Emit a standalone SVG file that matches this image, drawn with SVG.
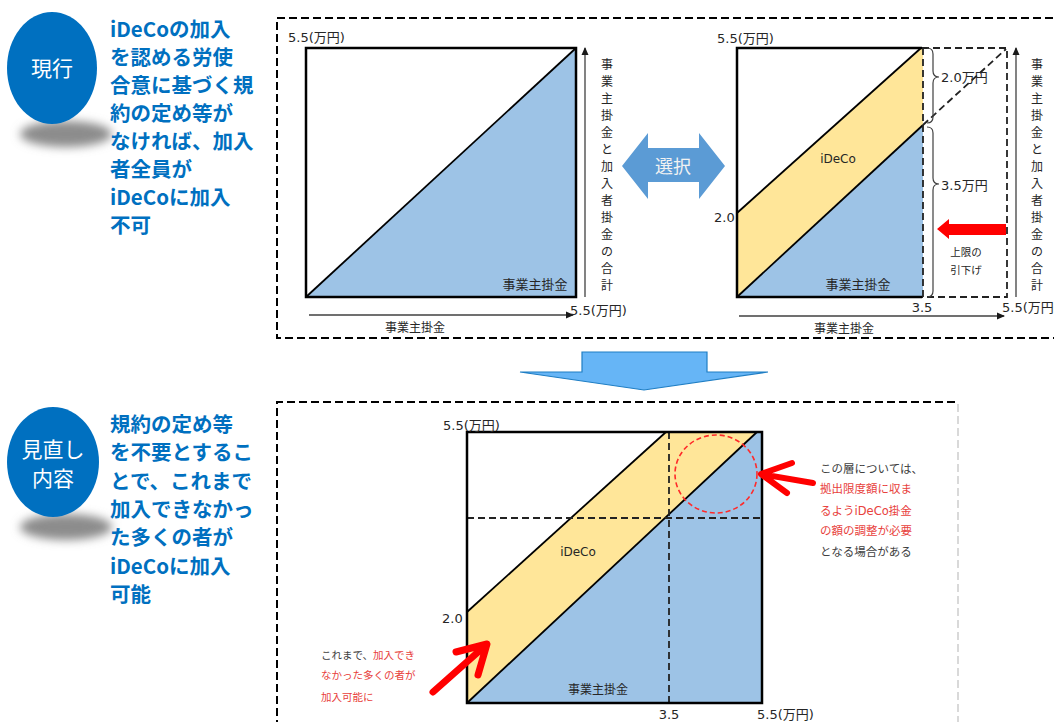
<svg xmlns="http://www.w3.org/2000/svg" width="1054" height="722" viewBox="0 0 1054 722">
<defs>
<style>
.t{font-family:"DejaVu Sans","Noto Sans CJK JP",sans-serif;fill:#262626;}
.lbl{font-size:13px;}
.head{font-family:"Noto Sans CJK JP",sans-serif;font-weight:700;font-size:20.5px;fill:#0070c0;}
.circ{fill:#0070c0;}
.ctext{font-family:"Noto Sans CJK JP",sans-serif;font-size:21px;fill:#ffffff;text-anchor:middle;}
.box{fill:none;stroke:#000;stroke-width:2;stroke-dasharray:8 4;}
.sq{fill:none;stroke:#000;stroke-width:2.5;}
.diag{stroke:#000;stroke-width:1.8;fill:none;}
.dash{stroke:#222;stroke-width:1.8;fill:none;stroke-dasharray:7 4;}
.axis{stroke:#404040;stroke-width:1.3;fill:none;marker-end:url(#ah);}
.blue{fill:#9dc3e6;}
.yel{fill:#ffe699;}
.red{fill:#e8413c;}
.dark{fill:#404040;}
.redarr{stroke:#ff0000;fill:none;stroke-linecap:round;stroke-linejoin:round;}
</style>
<marker id="ah" markerWidth="8" markerHeight="8" refX="7" refY="4" orient="auto" markerUnits="userSpaceOnUse">
<path d="M0,0.5 L8,4 L0,7.5 Z" fill="#1a1a1a"/>
</marker>
<filter id="blur" x="-50%" y="-100%" width="200%" height="300%">
<feGaussianBlur stdDeviation="5"/>
</filter>
</defs>

<!-- left labels -->
<g id="label-current">
<ellipse cx="66" cy="134" rx="46" ry="13" fill="#8c8c8c" filter="url(#blur)"/>
<ellipse class="circ" cx="52" cy="68" rx="45" ry="56"/>
<text class="ctext" x="52" y="76">現行</text>
</g>
<g id="text-current">
<text class="head" x="110" y="37">iDeCoの加入</text>
<text class="head" x="110" y="65">を認める労使</text>
<text class="head" x="110" y="93">合意に基づく規</text>
<text class="head" x="110" y="121">約の定め等が</text>
<text class="head" x="110" y="149">なければ、加入</text>
<text class="head" x="110" y="177">者全員が</text>
<text class="head" x="110" y="205">iDeCoに加入</text>
<text class="head" x="110" y="233">不可</text>
</g>
<g id="label-revised">
<ellipse cx="66" cy="527" rx="46" ry="13" fill="#8c8c8c" filter="url(#blur)"/>
<ellipse class="circ" cx="53" cy="462" rx="46" ry="55"/>
<text class="ctext" x="53" y="457">見直し</text>
<text class="ctext" x="53" y="486">内容</text>
</g>
<g id="text-revised">
<text class="head" x="110" y="432">規約の定め等</text>
<text class="head" x="110" y="460">を不要とするこ</text>
<text class="head" x="110" y="489">とで、これまで</text>
<text class="head" x="110" y="517">加入できなかっ</text>
<text class="head" x="110" y="545">た多くの者が</text>
<text class="head" x="110" y="574">iDeCoに加入</text>
<text class="head" x="110" y="602">可能</text>
</g>

<!-- frames -->
<g id="frame-top">
<rect class="box" x="277" y="18" width="790" height="320"/>
</g>
<g id="frame-bottom">
<path d="M277,740 L277,402 L957,402" class="box"/>
<line x1="958" y1="404" x2="958" y2="722" stroke="#d9d9d9" stroke-width="2" stroke-dasharray="8 4"/>
</g>

<!-- current chart -->
<g id="chart-current">
<polygon class="blue" points="306,297 576,48 576,297"/>
<line class="diag" x1="306" y1="297" x2="576" y2="48"/>
<rect class="sq" x="306" y="48" width="270" height="249"/>
<text class="t lbl" x="288" y="42">5.5(万円)</text>
<text class="t lbl" x="535" y="289" text-anchor="middle">事業主掛金</text>
<line class="axis" x1="585" y1="297" x2="585" y2="48"/>
<line class="axis" x1="309" y1="315" x2="573" y2="315"/>
<text class="t lbl" x="570" y="315">5.5(万円)</text>
<text class="t" font-size="12" x="415" y="332" text-anchor="middle">事業主掛金</text>
<text class="t" font-size="12" text-anchor="middle">
<tspan x="607" y="69">事</tspan><tspan x="607" y="86">業</tspan><tspan x="607" y="103">主</tspan><tspan x="607" y="120">掛</tspan><tspan x="607" y="137">金</tspan><tspan x="607" y="154">と</tspan><tspan x="607" y="171">加</tspan><tspan x="607" y="188">入</tspan><tspan x="607" y="205">者</tspan><tspan x="607" y="222">掛</tspan><tspan x="607" y="239">金</tspan><tspan x="607" y="256">の</tspan><tspan x="607" y="273">合</tspan><tspan x="607" y="290">計</tspan>
</text>
</g>

<!-- choice arrow -->
<g id="choice">
<polygon points="622,166 648,133 648,148 699,148 699,133 725,166 699,199 699,182 648,182 648,199" fill="#5b9bd5"/>
<text x="673" y="173" font-family="Noto Sans CJK JP,sans-serif" font-size="18" fill="#f2f2f2" text-anchor="middle">選択</text>
</g>

<!-- alternative chart -->
<g id="chart-alt">
<polygon class="yel" points="737,213 921,48 923,48 923,125 737,297"/>
<polygon class="blue" points="737,297 923,125 923,297"/>
<line class="diag" x1="737" y1="213" x2="921" y2="48"/>
<line class="diag" x1="737" y1="297" x2="923" y2="125"/>
<path class="sq" d="M922,48 L737,48 L737,297 L922,297"/>
<path class="dash" d="M922,48 L1007,48 L1007,297 L922,297"/>
<line class="dash" x1="923" y1="48" x2="923" y2="297" stroke-width="2"/>
<line class="dash" x1="923" y1="125" x2="1006" y2="49"/>
<path d="M927,48 Q933,48 933,54 L933,71 Q933,77 939,77 Q933,77 933,83 L933,117 Q933,123 927,123" fill="none" stroke="#404040" stroke-width="1.2"/>
<path d="M927,127 Q933,127 933,133 L933,178 Q933,184 939,184 Q933,184 933,190 L933,291 Q933,297 927,297" fill="none" stroke="#404040" stroke-width="1.2"/>
<text class="t lbl" x="941" y="82">2.0万円</text>
<text class="t lbl" x="941" y="190">3.5万円</text>
<text class="t lbl" x="717" y="43">5.5(万円)</text>
<text class="t lbl" x="714" y="222">2.0</text>
<text class="t" font-size="12" x="838" y="163" text-anchor="middle">iDeCo</text>
<text class="t lbl" x="858" y="289" text-anchor="middle">事業主掛金</text>
<text class="t lbl" x="922" y="312" text-anchor="middle">3.5</text>
<text class="t lbl" x="1002" y="312">5.5(万円</text>
<line class="axis" x1="739" y1="316" x2="1004" y2="316"/>
<text class="t" font-size="12" x="844" y="333" text-anchor="middle">事業主掛金</text>
<line class="axis" x1="1016" y1="297" x2="1016" y2="48"/>
<text class="t" font-size="12" text-anchor="middle">
<tspan x="1037" y="69">事</tspan><tspan x="1037" y="86">業</tspan><tspan x="1037" y="103">主</tspan><tspan x="1037" y="120">掛</tspan><tspan x="1037" y="137">金</tspan><tspan x="1037" y="154">と</tspan><tspan x="1037" y="171">加</tspan><tspan x="1037" y="188">入</tspan><tspan x="1037" y="205">者</tspan><tspan x="1037" y="222">掛</tspan><tspan x="1037" y="239">金</tspan><tspan x="1037" y="256">の</tspan><tspan x="1037" y="273">合</tspan><tspan x="1037" y="290">計</tspan>
</text>
<polygon points="937,229 949,219 949,224 1006,224 1006,235 949,235 949,239" fill="#ff0000"/>
<text class="t" font-size="10.5" x="966" y="256" text-anchor="middle">上限の</text>
<text class="t" font-size="10.5" x="966" y="274" text-anchor="middle">引下げ</text>
</g>

<!-- transition arrow -->
<g id="down-arrow">
<polygon points="582,352 707,352 707,372 768,372 644,390 520,372 582,372" fill="#66b5f6" stroke="#1f7ec4" stroke-width="1.2" stroke-linejoin="miter"/>
</g>

<!-- revised chart -->
<g id="chart-revised">
<polygon class="yel" points="467,612 666,432 757,432 467,703"/>
<polygon class="blue" points="467,703 757,432 762,432 762,703"/>
<line class="diag" x1="467" y1="612" x2="666" y2="432"/>
<line class="diag" x1="467" y1="703" x2="757" y2="432"/>
<line class="dash" x1="669" y1="432" x2="669" y2="703"/>
<line class="dash" x1="467" y1="518" x2="762" y2="518"/>
<rect class="sq" x="467" y="432" width="295" height="271"/>
<ellipse cx="716" cy="474" rx="41" ry="39" fill="none" stroke="#ff2a2a" stroke-width="1.6" stroke-dasharray="5 3"/>
<text class="t lbl" x="443" y="430">5.5(万円)</text>
<text class="t lbl" x="442" y="623">2.0</text>
<text class="t" font-size="12" x="578" y="556" text-anchor="middle">iDeCo</text>
<text class="t" font-size="12" x="598" y="694" text-anchor="middle">事業主掛金</text>
<text class="t lbl" x="669" y="719" text-anchor="middle">3.5</text>
<text class="t lbl" x="757" y="719">5.5(万円)</text>
</g>

<!-- notes -->
<g id="note-right">
<path class="redarr" stroke-width="6" d="M813,483 L761,474 M792,463 L761,474 L787,493"/>
<text class="t" font-size="11.5" x="820" y="473"><tspan class="dark">この層については、</tspan></text>
<text class="t red" font-size="11.5" x="820" y="493">拠出限度額に収ま</text>
<text class="t red" font-size="11.5" x="820" y="515">るようiDeCo掛金</text>
<text class="t red" font-size="11.5" x="820" y="535">の額の調整が必要</text>
<text class="t" font-size="11.5" x="820" y="556"><tspan class="dark">となる場合がある</tspan></text>
</g>
<g id="note-left">
<path class="redarr" stroke-width="7" d="M433,692 L486,645 M456,652 L487,644 L478,675"/>
<text class="t" font-size="10.5" x="321" y="659"><tspan class="dark">これまで、</tspan><tspan class="red">加入でき</tspan></text>
<text class="t red" font-size="10.5" x="321" y="679">なかった多くの者が</text>
<text class="t red" font-size="10.5" x="321" y="701">加入可能に</text>
</g>
</svg>
